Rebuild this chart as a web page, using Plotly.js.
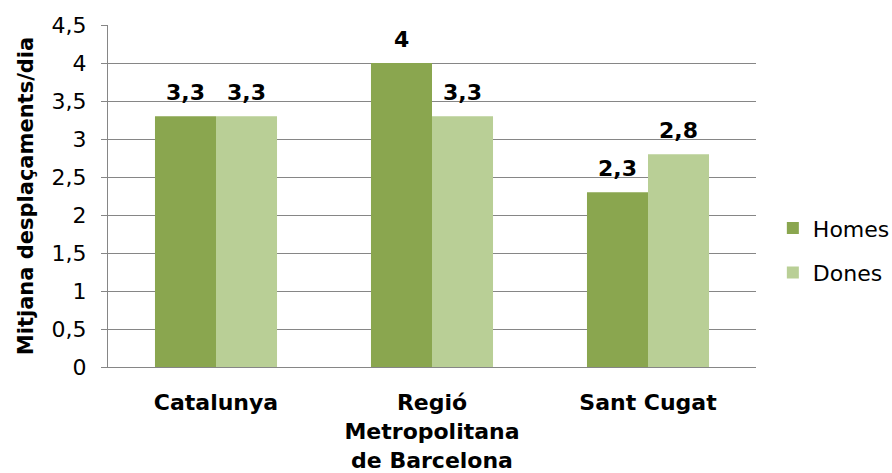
<!DOCTYPE html>
<html>
<head>
<meta charset="utf-8">
<script src="https://cdn.plot.ly/plotly-3.0.1.min.js"></script>
<style>html,body{margin:0;padding:0;background:#fff;}#chart{width:892px;height:473px;}</style>
</head>
<body>
<div id="chart"></div>
<script>
const categories = ["Catalunya", "Regió<br>Metropolitana<br>de Barcelona", "Sant Cugat"];
const homes = [3.3, 4, 2.3];
const dones = [3.3, 3.3, 2.8];
const seriesNames = ["Homes", "Dones"];
const yTitle = "Mitjana desplaçaments/dia";

const colHomes = "#8AA64F";
const colDones = "#B9CF96";
const fontFam = "'DejaVu Sans', Verdana, sans-serif";

const fmt = v => String(v).replace('.', ',');

const traces = [
  {type: 'bar', name: seriesNames[0], x: categories, y: homes, marker: {color: colHomes}, legendgroup: 'a', hoverinfo: 'none'},
  {type: 'bar', name: seriesNames[1], x: categories, y: dones, marker: {color: colDones}, legendgroup: 'b', hoverinfo: 'none'}
];

const annotations = [];
[homes, dones].forEach((arr, si) => {
  arr.forEach((v, i) => {
    annotations.push({
      x: categories[i], y: v, xref: 'x', yref: 'y',
      text: '<b>' + fmt(v) + '</b>', showarrow: false,
      xanchor: 'center', yanchor: 'bottom',
      xshift: si === 0 ? -30.5 : 30.5, yshift: 9,
      font: {family: fontFam, size: 22, color: '#000'}
    });
  });
});

const layout = {
  width: 892, height: 473,
  margin: {l: 108, r: 136, t: 25, b: 106, pad: 0, autoexpand: false},
  paper_bgcolor: '#fff', plot_bgcolor: '#fff',
  separators: ',.',
  font: {family: fontFam, size: 22, color: '#000'},
  barmode: 'group', bargap: 0.435, bargroupgap: 0,
  showlegend: true,
  legend: {x: 1.026, xanchor: 'left', y: 0.34, yanchor: 'middle',
    font: {family: fontFam, size: 22, color: '#000'},
    traceorder: 'grouped', tracegroupgap: 13, bgcolor: 'rgba(0,0,0,0)'},
  xaxis: {
    type: 'category', showgrid: false, zeroline: false,
    showline: true, linecolor: '#868686', linewidth: 1,
    ticks: '', ticklabelstandoff: 16,
    tickfont: {family: fontFam, size: 22, color: '#000', weight: 'bold'}
  },
  yaxis: {
    range: [0, 4.5], dtick: 0.5, tick0: 0,
    showgrid: true, gridcolor: '#868686', gridwidth: 1,
    zeroline: false, showline: true, linecolor: '#868686', linewidth: 1,
    ticks: 'outside', ticklen: 6, tickcolor: '#868686', tickwidth: 1,
    ticklabelstandoff: 10,
    tickfont: {family: fontFam, size: 22, color: '#000'},
    title: {text: '<b>' + yTitle + '</b>', font: {family: fontFam, size: 21, color: '#000'}, standoff: 12}
  },
  annotations: annotations
};

Plotly.newPlot('chart', traces, layout, {displayModeBar: false, staticPlot: true});
</script>
</body>
</html>
